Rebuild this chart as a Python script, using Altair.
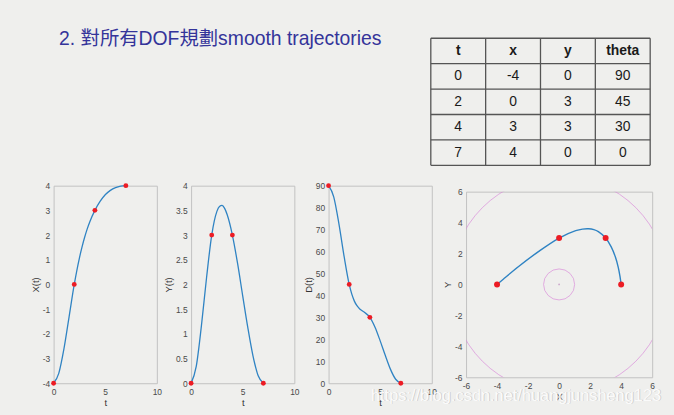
import altair as alt
import pandas as pd

# ---------------- data ----------------
way_t = [0, 2, 4, 7]
way_x = [-4, 0, 3, 4]
way_y = [0, 3, 3, 0]
way_theta = [90, 45, 30, 0]

t_samples = [0, 0.5, 1, 1.5, 2, 2.5, 2.75, 3, 3.25, 3.5, 4, 4.5, 5, 5.5, 6, 6.5, 7]
x_curve = [-4, -3.60, -2.61, -1.31, 0, 1.07, 1.51, 1.90, 2.24, 2.53, 3, 3.36, 3.63, 3.81, 3.92, 3.98, 4]
y_curve = [0, 0.34, 1.16, 2.14, 3, 3.48, 3.58, 3.60, 3.54, 3.41, 3, 2.43, 1.77, 1.12, 0.55, 0.15, 0]
d_curve = [90, 84.9, 72.7, 57.9, 45, 37.4, 35.3, 33.9, 33.0, 32.2, 30, 25.5, 19.3, 12.6, 6.3, 1.8, 0]

table_header = ["t", "x", "y", "theta"]
workspace_radii = [1, 7]

title_text = "2. 對所有DOF規劃smooth trajectories"
watermark_text = "https://blog.csdn.net/huangjunsheng123"

# ---------------- styles ----------------
BG = "#efefed"
BLUE = "#2f83c3"
RED = "#ec1c24"
FRAME = "#c2c2c2"
FONT = "Liberation Sans"
LABEL_EXPR = "'' + datum.value"

W, H = 104, 199
W4, H4 = 187.5, 187
SPACING = 34.5

curve = pd.DataFrame({"t": t_samples, "x": x_curve, "y": y_curve, "d": d_curve})
way = pd.DataFrame({"t": way_t, "x": way_x, "y": way_y, "d": way_theta})


def ax(values, title):
    return alt.Axis(
        values=values, title=title, grid=False, ticks=False, domain=False,
        labelExpr=LABEL_EXPR, labelFont=FONT, labelFontSize=8.5, labelColor="#4a4a4a",
        labelPadding=4, labelFlush=False, labelOverlap=False,
        titleFont=FONT, titleFontSize=9.5, titleFontWeight="normal", titleColor="#333333",
        titlePadding=2,
    )


def ts_panel(field, ydom, yvals, ytitle):
    xs = alt.Scale(domain=[0, 10], nice=False, zero=False)
    ys = alt.Scale(domain=ydom, nice=False, zero=False)
    xa = ax([0, 5, 10], "t")
    ya = ax(yvals, ytitle)
    line = alt.Chart(curve).mark_line(color=BLUE, strokeWidth=1.3, interpolate="monotone").encode(
        x=alt.X("t:Q", scale=xs, axis=xa),
        y=alt.Y(f"{field}:Q", scale=ys, axis=ya),
        order=alt.Order("t:Q"),
    )
    pts = alt.Chart(way).mark_circle(color=RED, size=24, opacity=1).encode(
        x=alt.X("t:Q", scale=xs, axis=xa),
        y=alt.Y(f"{field}:Q", scale=ys, axis=ya),
    )
    return [line, pts]


# panel 1 with slide title
p1_layers = ts_panel("x", [-4, 4], list(range(-4, 5)), "X(t)")
title_layer = alt.Chart(pd.DataFrame({"s": [title_text]})).mark_text(
    align="left", baseline="top", font="Liberation Sans, Noto Sans CJK TC",
    fontSize=19.5, color="#34349a",
).encode(text="s:N", x=alt.value(5.5), y=alt.value(-157))
p1 = alt.layer(*p1_layers, title_layer).properties(width=W, height=H)

p2 = alt.layer(*ts_panel("y", [0, 4], [i * 0.5 for i in range(9)], "Y(t)")).properties(width=W, height=H)
p3 = alt.layer(*ts_panel("d", [0, 90], list(range(0, 100, 10)), "D(t)")).properties(width=W, height=H)

# panel 4: x-y path
xs4 = alt.Scale(domain=[-6, 6], nice=False, zero=False)
ys4 = alt.Scale(domain=[-6, 6], nice=False, zero=False)
px_per_unit = W4 / 12

circles = pd.DataFrame({
    "cx": [0] * len(workspace_radii),
    "cy": [0] * len(workspace_radii),
    "sz": [(2 * r * px_per_unit) ** 2 for r in workspace_radii],
})

ring = alt.Chart(circles).mark_point(shape="circle", filled=False, clip=True, color="#d98cd9",
                                     strokeWidth=0.7, opacity=1).encode(
    x=alt.X("cx:Q", scale=xs4, axis=None),
    y=alt.Y("cy:Q", scale=ys4, axis=None),
    size=alt.Size("sz:Q", scale=None),
)
center_dot = alt.Chart(circles.head(1)).mark_circle(color="#c9a3c9", size=3, opacity=1).encode(
    x=alt.X("cx:Q", scale=xs4, axis=None),
    y=alt.Y("cy:Q", scale=ys4, axis=None),
)
path = alt.Chart(curve).mark_line(color=BLUE, strokeWidth=1.4, interpolate="catmull-rom").encode(
    x=alt.X("x:Q", scale=xs4, axis=ax(list(range(-6, 7, 2)), "X")),
    y=alt.Y("y:Q", scale=ys4, axis=ax(list(range(-6, 7, 2)), "Y")),
    order=alt.Order("t:Q"),
)
path_pts = alt.Chart(way).mark_circle(color=RED, size=36, opacity=1).encode(
    x=alt.X("x:Q", scale=xs4, axis=None),
    y=alt.Y("y:Q", scale=ys4, axis=None),
)

# table (drawn above panel 4 with its own scales)
p4_left = 51 + 3 * W + 3 * SPACING
p4_top = 183.5 + (H - H4) / 2
tx = alt.Scale(domain=[0, 4], range=[431 - p4_left, 652 - p4_left], nice=False, zero=False)
ty = alt.Scale(domain=[0, 5], range=[35 - p4_top, 163 - p4_top], nice=False, zero=False)

ncols = len(table_header)
nrows = len(way_t) + 1
vlines = pd.DataFrame({"c": list(range(ncols + 1)), "r0": 0, "r1": nrows})
hlines = pd.DataFrame({"r": list(range(nrows + 1)), "c0": 0, "c1": ncols})

cells = []
for j, h in enumerate(table_header):
    cells.append({"c": j + 0.5, "r": 0.5, "s": h, "hdr": True})
for i in range(len(way_t)):
    for j, v in enumerate([way_t[i], way_x[i], way_y[i], way_theta[i]]):
        cells.append({"c": j + 0.5, "r": i + 1.5, "s": str(v), "hdr": False})
cells = pd.DataFrame(cells)

LINE = "#555555"
tab_v = alt.Chart(vlines).mark_rule(color=LINE, strokeWidth=1.3).encode(
    x=alt.X("c:Q", scale=tx, axis=None),
    y=alt.Y("r0:Q", scale=ty, axis=None), y2="r1:Q",
)
tab_h = alt.Chart(hlines).mark_rule(color=LINE, strokeWidth=1.3).encode(
    y=alt.Y("r:Q", scale=ty, axis=None),
    x=alt.X("c0:Q", scale=tx, axis=None), x2="c1:Q",
)
tab_head = alt.Chart(cells[cells.hdr]).mark_text(font=FONT, fontSize=14, fontWeight="bold",
                                                 color="#1a1a1a", baseline="middle").encode(
    x=alt.X("c:Q", scale=tx, axis=None), y=alt.Y("r:Q", scale=ty, axis=None), text="s:N",
)
tab_body = alt.Chart(cells[~cells.hdr]).mark_text(font=FONT, fontSize=14,
                                                  color="#1a1a1a", baseline="middle").encode(
    x=alt.X("c:Q", scale=tx, axis=None), y=alt.Y("r:Q", scale=ty, axis=None), text="s:N",
)

wm = pd.DataFrame({"s": [watermark_text]})
wm_shadow = alt.Chart(wm).mark_text(align="right", baseline="alphabetic", font=FONT, fontSize=16.5,
                                    color="#a8a8a8", opacity=0.55, dx=0.7, dy=0.7).encode(
    text="s:N", x=alt.value(663 - p4_left), y=alt.value(400 - p4_top))
wm_text = alt.Chart(wm).mark_text(align="right", baseline="alphabetic", font=FONT, fontSize=16.5,
                                  color="#ffffff", opacity=0.92).encode(
    text="s:N", x=alt.value(663 - p4_left), y=alt.value(400 - p4_top))

p4 = alt.layer(ring, center_dot, path, path_pts, tab_v, tab_h, tab_head, tab_body,
               wm_shadow, wm_text).resolve_scale(x="independent", y="independent").properties(
    width=W4, height=H4)

chart = alt.hconcat(p1, p2, p3, p4, spacing=SPACING, bounds="flush", center=True).configure_view(
    stroke=FRAME, strokeWidth=1
).properties(
    background=BG,
    padding={"left": 29, "top": 26.5, "right": 11, "bottom": 9},
)

chart.save("out.html", embed_options={"renderer": "svg", "actions": False})
